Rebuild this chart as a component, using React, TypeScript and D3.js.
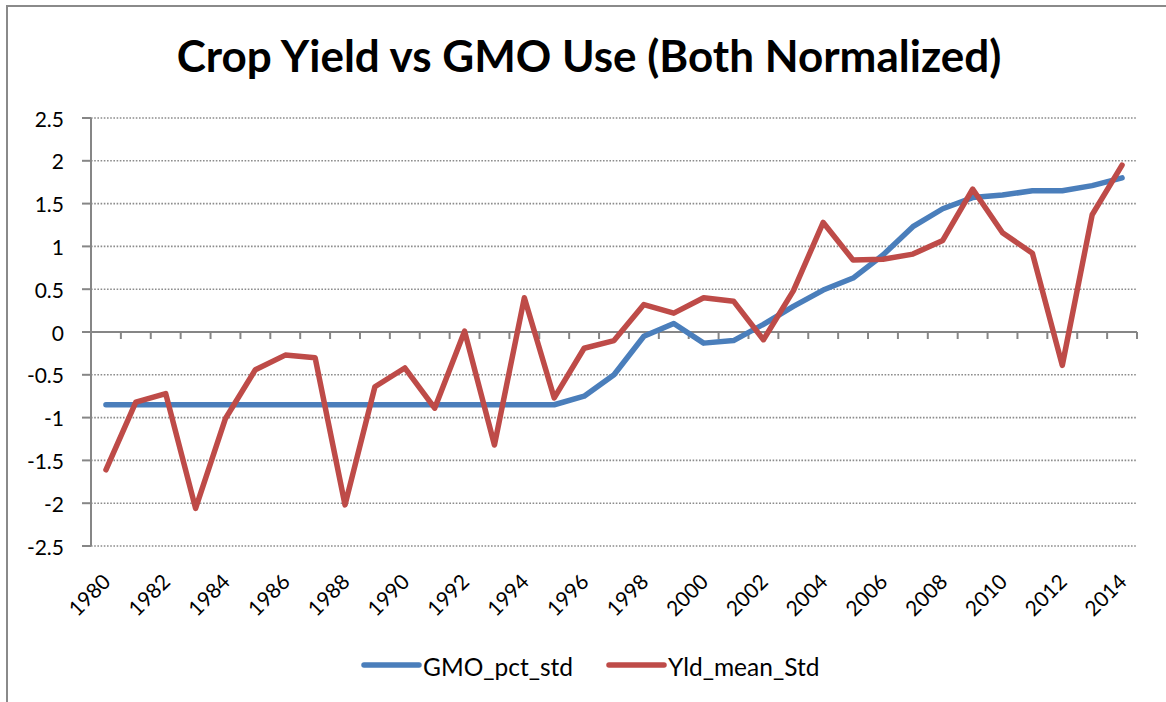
import React from "react";
import * as d3 from "d3";

const years: number[] = [
  1980, 1981, 1982, 1983, 1984, 1985, 1986, 1987, 1988, 1989,
  1990, 1991, 1992, 1993, 1994, 1995, 1996, 1997, 1998, 1999,
  2000, 2001, 2002, 2003, 2004, 2005, 2006, 2007, 2008, 2009,
  2010, 2011, 2012, 2013, 2014,
];

const gmoPctStd: number[] = [
  -0.85, -0.85, -0.85, -0.85, -0.85, -0.85, -0.85, -0.85, -0.85, -0.85,
  -0.85, -0.85, -0.85, -0.85, -0.85, -0.85, -0.75, -0.5, -0.05, 0.1,
  -0.13, -0.1, 0.09, 0.3, 0.49, 0.63, 0.9, 1.23, 1.44, 1.57,
  1.6, 1.65, 1.65, 1.71, 1.8,
];

const yldMeanStd: number[] = [
  -1.61, -0.82, -0.72, -2.06, -1.01, -0.44, -0.27, -0.3, -2.02, -0.64,
  -0.42, -0.89, 0.01, -1.32, 0.4, -0.77, -0.19, -0.1, 0.32, 0.22,
  0.4, 0.36, -0.09, 0.48, 1.28, 0.84, 0.85, 0.91, 1.07, 1.67,
  1.16, 0.92, -0.39, 1.37, 1.95,
];

const yTicks: number[] = [2.5, 2, 1.5, 1, 0.5, 0, -0.5, -1, -1.5, -2, -2.5];

const seriesNames: string[] = ["GMO_pct_std", "Yld_mean_Std"];
const seriesColors: string[] = ["#4A7EBB", "#BE4B48"];
const title = "Crop Yield vs GMO Use (Both Normalized)";

const W = 1166;
const H = 702;
const FONT = "Lato, 'Open Sans', sans-serif";

export default function App() {
  const x = d3
    .scaleBand<number>()
    .domain(years)
    .range([91, 1137])
    .padding(0);
  const y = d3.scaleLinear().domain([-2.5, 2.5]).range([546, 118]);
  const cx = (yr: number) => (x(yr) as number) + x.bandwidth() / 2;

  const line = d3
    .line<number>()
    .x((_, i) => cx(years[i]))
    .y((d) => y(d));

  const seriesData = [gmoPctStd, yldMeanStd];
  const gridColor = "#8C8C8C";
  const axisColor = "#868686";

  const boundaries = d3.range(years.length + 1).map((k) => 91 + k * x.bandwidth());

  return (
    <svg
      width={W}
      height={H}
      style={{ position: "absolute", left: 0, top: 0, background: "#fff" }}
    >
      <rect x={0} y={0} width={W} height={H} fill="#fff" />
      <rect
        x={7}
        y={6}
        width={W + 20}
        height={H + 20}
        fill="none"
        stroke="#8A8A8A"
        strokeWidth={2}
      />
      <text
        x={589}
        y={72}
        textAnchor="middle"
        fontFamily={FONT}
        fontWeight="bold"
        fontSize={44}
        fill="#000"
      >
        {title}
      </text>

      {/* gridlines */}
      {yTicks
        .filter((t) => t !== 0)
        .map((t) => (
          <line
            key={"g" + t}
            x1={91}
            x2={1137}
            y1={y(t)}
            y2={y(t)}
            stroke={gridColor}
            strokeWidth={1.6}
            strokeDasharray="1.6 1.6"
          />
        ))}

      {/* y axis */}
      <line x1={91} x2={91} y1={118} y2={546} stroke={axisColor} strokeWidth={2} />
      {yTicks.map((t) => (
        <g key={"yt" + t}>
          <line x1={82} x2={91} y1={y(t)} y2={y(t)} stroke={axisColor} strokeWidth={2} />
          <text
            x={64}
            y={y(t)}
            textAnchor="end"
            dominantBaseline="central"
            fontFamily={FONT}
            fontSize={21}
            fill="#000"
          >
            {String(t)}
          </text>
        </g>
      ))}

      {/* x axis at zero */}
      <line x1={91} x2={1137} y1={y(0)} y2={y(0)} stroke={axisColor} strokeWidth={2} />
      {boundaries.map((bx, k) => (
        <line
          key={"xt" + k}
          x1={bx}
          x2={bx}
          y1={y(0)}
          y2={y(0) + 7}
          stroke={axisColor}
          strokeWidth={2}
        />
      ))}
      {years
        .filter((_, i) => i % 2 === 0)
        .map((yr) => (
          <text
            key={"xl" + yr}
            transform={`translate(${cx(yr)},${577}) rotate(-45)`}
            textAnchor="end"
            dominantBaseline="central"
            fontFamily={FONT}
            fontSize={21}
            fill="#000"
          >
            {String(yr)}
          </text>
        ))}

      {/* series */}
      {seriesData.map((s, si) => (
        <path
          key={"s" + si}
          d={line(s) || ""}
          fill="none"
          stroke={seriesColors[si]}
          strokeWidth={5.5}
          strokeLinejoin="round"
          strokeLinecap="round"
        />
      ))}

      {/* legend */}
      {seriesNames.map((n, i) => {
        const lx = i === 0 ? 364 : 609;
        return (
          <g key={"lg" + i}>
            <line
              x1={lx}
              x2={lx + 55}
              y1={665}
              y2={665}
              stroke={seriesColors[i]}
              strokeWidth={5.5}
              strokeLinecap="round"
            />
            <text
              x={lx + 59}
              y={666}
              dominantBaseline="central"
              fontFamily={FONT}
              fontSize={24.5}
              fill="#000"
            >
              {n}
            </text>
          </g>
        );
      })}
    </svg>
  );
}
